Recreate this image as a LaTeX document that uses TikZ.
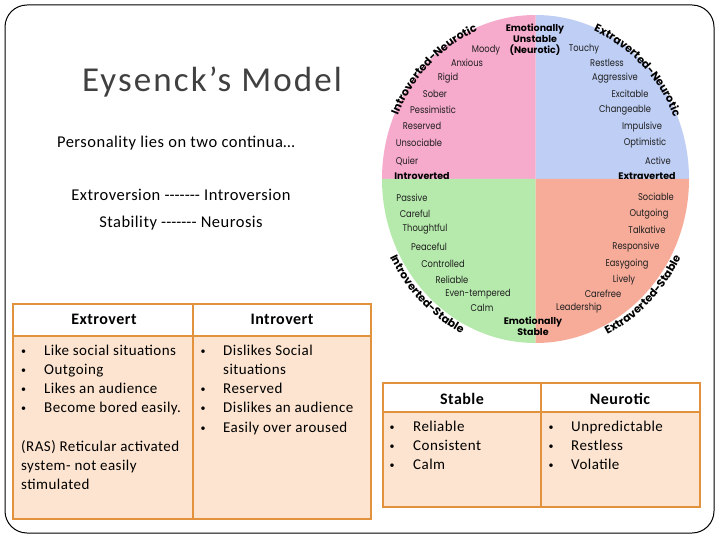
\documentclass[tikz,border=0pt]{standalone}
\usepackage{fontspec}
\setmainfont{Carlito}
\newfontfamily\bodyfont[LetterSpace=3]{Carlito}
\newfontfamily\titlefont[LetterSpace=6]{Carlito}
\newfontfamily\circfont[FakeStretch=0.85]{Poppins}
\newfontfamily\circbf{Poppins}
\usetikzlibrary{decorations.text}
\definecolor{qpink}{RGB}{246,170,204}
\definecolor{qblue}{RGB}{190,206,244}
\definecolor{qgreen}{RGB}{182,234,172}
\definecolor{qsalmon}{RGB}{247,172,154}
\definecolor{tborder}{RGB}{226,146,60}
\definecolor{peach}{RGB}{252,228,208}
\definecolor{titlegray}{RGB}{64,64,64}
\definecolor{wordgray}{RGB}{30,30,30}
\newcommand\arcfnt{\circbf\bfseries\fontsize{11}{11}\selectfont}
\newcommand\hy{\mbox{-}}
\newcommand\bul{\hspace*{1pt}\raisebox{1pt}{\fontsize{10}{10}\selectfont •}}
\begin{document}
\begin{tikzpicture}[x=1pt,y=1pt,
  word/.style={font=\circfont\fontsize{9.8}{10}\selectfont, text=wordgray, inner sep=0pt},
  qlabel/.style={font=\circbf\bfseries\fontsize{9.5}{11}\selectfont, text=black, inner sep=0pt, align=center},
  arctext/.style={decorate, decoration={text along path, text align=center}},
  hdr/.style={font=\bodyfont\bfseries\fontsize{16}{19}\selectfont, inner sep=0pt},
  cell/.style={font=\bodyfont\fontsize{15}{19.3}\selectfont, inner sep=0pt, anchor=base west},
  txt/.style={font=\bodyfont\fontsize{16.5}{19}\selectfont, inner sep=0pt},
  tabline/.style={draw=tborder, line width=2pt},
]
\useasboundingbox (0,0) rectangle (720,-540);
\fill[white] (0,0) rectangle (720,-540);
% frame
\draw[line width=1pt, rounded corners=22pt] (5,-5) rectangle (714,-533);

% title and text
\node[font=\titlefont\fontsize{35}{40}\selectfont, text=titlegray, inner sep=0pt] (title) at (212,-82) {Eysenck’s Model};
\node[txt] (p1) at (176,-143) {Personality lies on two continua…};
\node[txt] (p2) at (181,-195) {Extroversion \hy\hy\hy\hy\hy\hy\hy{} Introversion};
\node[txt] (p3) at (181,-223) {Stability \hy\hy\hy\hy\hy\hy\hy{} Neurosis};

% circle quadrants
\coordinate (C) at (535.5,-179);
\fill[qblue] (C) -- ([shift={(0:153.5pt and 164pt)}]C) arc[start angle=0, end angle=90, x radius=153.5pt, y radius=164pt] -- cycle;
\fill[qpink] (C) -- ([shift={(90:153.5pt and 164pt)}]C) arc[start angle=90, end angle=180, x radius=153.5pt, y radius=164pt] -- cycle;
\fill[qgreen] (C) -- ([shift={(180:153.5pt and 164pt)}]C) arc[start angle=180, end angle=270, x radius=153.5pt, y radius=164pt] -- cycle;
\fill[qsalmon] (C) -- ([shift={(270:153.5pt and 164pt)}]C) arc[start angle=270, end angle=360, x radius=153.5pt, y radius=164pt] -- cycle;

% arc labels
\path[arctext, decoration={text={|\arcfnt|Introverted-Neurotic}}]
  ([shift={(160:150pt and 160.5pt)}]C) arc[start angle=160, end angle=109, x radius=150pt, y radius=160.5pt];
\path[arctext, decoration={text={|\arcfnt|Extraverted-Neurotic}}]
  ([shift={(70:150pt and 160.5pt)}]C) arc[start angle=70, end angle=20, x radius=150pt, y radius=160.5pt];
\path[arctext, decoration={text={|\arcfnt|Introverted-Stable}}]
  ([shift={(200:163pt and 173.5pt)}]C) arc[start angle=200, end angle=250, x radius=163pt, y radius=173.5pt];
\path[arctext, decoration={text={|\arcfnt|Extraverted-Stable}}]
  ([shift={(289:163pt and 173.5pt)}]C) arc[start angle=289, end angle=340, x radius=163pt, y radius=173.5pt];

% quadrant labels
\node[qlabel] (unstable) at (535,-40) {Emotionally\\Unstable\\(Neurotic)};
\node[qlabel] (stable) at (533,-326.5) {Emotionally\\Stable};
\node[qlabel] (intro) at (422,-176) {Introverted};
\node[qlabel] (extra) at (647,-176) {Extraverted};

% pink words
\node[word] (w1) at (486,-50) {Moody};
\node[word] (w2) at (467,-63) {Anxious};
\node[word] (w3) at (448,-78) {Rigid};
\node[word] (w4) at (435,-94) {Sober};
\node[word] (w5) at (433,-110) {Pessimistic};
\node[word] (w6) at (422,-126) {Reserved};
\node[word] (w7) at (419,-143) {Unsociable};
\node[word] (w8) at (407,-161) {Quier};
% blue words
\node[word] (w9) at (584,-49) {Touchy};
\node[word] (w10) at (607,-63) {Restless};
\node[word] (w11) at (615,-78) {Aggressive};
\node[word] (w12) at (630,-94) {Excitable};
\node[word] (w13) at (625,-110) {Changeable};
\node[word] (w14) at (642,-127) {Impulsive};
\node[word] (w15) at (645,-143) {Optimistic};
\node[word] (w16) at (658,-161) {Active};
% green words
\node[word] (w17) at (412,-198) {Passive};
\node[word] (w18) at (415,-214) {Careful};
\node[word] (w19) at (425,-229) {Thoughtful};
\node[word] (w20) at (429,-247) {Peaceful};
\node[word] (w21) at (443,-264) {Controlled};
\node[word] (w22) at (452,-280) {Reliable};
\node[word] (w23) at (478,-294) {Even-tempered};
\node[word] (w24) at (482,-308) {Calm};
% salmon words
\node[word] (w25) at (656,-197) {Sociable};
\node[word] (w26) at (649,-214) {Outgoing};
\node[word] (w27) at (647,-230) {Talkative};
\node[word] (w28) at (636,-247) {Responsive};
\node[word] (w29) at (627,-264) {Easygoing};
\node[word] (w30) at (624,-280) {Lively};
\node[word] (w31) at (603,-294) {Carefree};
\node[word] (w32) at (579,-308) {Leadership};

% left table
\fill[white] (13,-304) rectangle (371,-336);
\fill[peach] (13,-336) rectangle (371,-519);
\draw[tabline] (13,-304) rectangle (371,-519);
\draw[tabline] (13,-336) -- (371,-336);
\draw[tabline] (193,-304) -- (193,-519);
\node[hdr] (hext) at (104,-319) {Extrovert};
\node[hdr] (hint) at (282,-319) {Introvert};
\node[cell] (ext) at (20,-355) {\begin{tabular}[t]{@{}p{24pt}@{}l@{}}\bul&Like social situations\\\bul&Outgoing\\\bul&Likes an audience\\\bul&Become bored easily.\end{tabular}};
\node[cell] (int) at (199.5,-355) {\begin{tabular}[t]{@{}p{23.5pt}@{}l@{}}\bul&Dislikes Social\\&situations\\\bul&Reserved\\\bul&Dislikes an audience\\\bul&Easily over aroused\end{tabular}};
\node[cell] (ras) at (21,-451) {\begin{tabular}[t]{@{}l@{}}(RAS) Reticular activated\\system- not easily\\stimulated\end{tabular}};

% right table
\fill[white] (383,-383) rectangle (700,-412);
\fill[peach] (383,-412) rectangle (700,-507);
\draw[tabline] (383,-383) rectangle (700,-507);
\draw[tabline] (383,-412) -- (700,-412);
\draw[tabline] (541,-383) -- (541,-507);
\node[hdr] (hsta) at (462,-399) {Stable};
\node[hdr] (hneu) at (620,-399) {Neurotic};
\node[cell] (sta) at (388.5,-431) {\begin{tabular}[t]{@{}p{24.5pt}@{}l@{}}\bul&Reliable\\\bul&Consistent\\\bul&Calm\end{tabular}};
\node[cell] (neu) at (547.5,-431) {\begin{tabular}[t]{@{}p{23.5pt}@{}l@{}}\bul&Unpredictable\\\bul&Restless\\\bul&Volatile\end{tabular}};
\end{tikzpicture}
\end{document}
